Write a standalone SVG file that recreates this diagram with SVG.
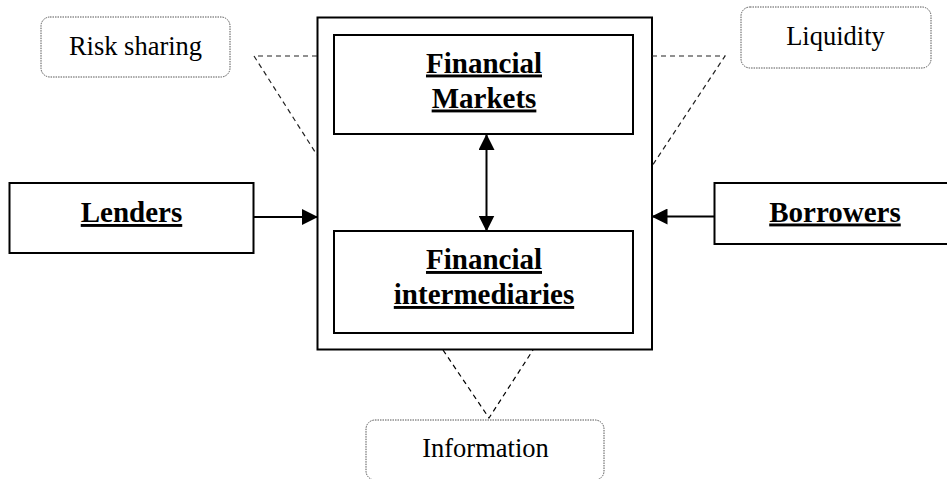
<svg xmlns="http://www.w3.org/2000/svg" width="947" height="479" viewBox="0 0 947 479">
  <defs>
    <marker id="arrow" markerUnits="userSpaceOnUse" markerWidth="16" markerHeight="16" refX="15" refY="8" orient="auto-start-reverse" viewBox="0 0 16 16">
      <path d="M0,0 L16,8 L0,16 z" fill="#000"/>
    </marker>
  </defs>
  <style>
    .box { fill: #fff; stroke: #000; stroke-width: 2; }
    .label { fill: #fff; stroke: #555; stroke-width: 1; stroke-dasharray: 1.5 1; }
    .dash { fill: none; stroke: #000; stroke-width: 1.2; stroke-dasharray: 5 4; }
    .conn { fill: none; stroke: #000; stroke-width: 2; }
    text { font-family: 'Liberation Serif', 'DejaVu Serif', serif; fill: #000; text-anchor: middle; }
    .bold { font-weight: bold; font-size: 29px; text-decoration: underline; }
    .reg { font-size: 26.5px; }
  </style>
  <rect width="947" height="479" fill="#fff"/>

  <g id="system">
    <rect class="box" x="317.5" y="17.5" width="334.5" height="332"/>
  </g>
  <g id="financial-markets">
    <rect class="box" x="334" y="35" width="299" height="99"/>
    <text class="bold" x="484" y="72.5" font-family="Liberation Serif">Financial</text>
    <text class="bold" x="484" y="107.5" font-family="Liberation Serif">Markets</text>
  </g>
  <g id="financial-intermediaries">
    <rect class="box" x="334" y="231" width="299" height="102"/>
    <text class="bold" x="484" y="269" font-family="Liberation Serif">Financial</text>
    <text class="bold" x="484" y="304" font-family="Liberation Serif">intermediaries</text>
  </g>
  <g id="lenders">
    <rect class="box" x="9.5" y="183" width="244" height="70"/>
    <text class="bold" x="131.5" y="222" font-family="Liberation Serif">Lenders</text>
  </g>
  <g id="borrowers">
    <rect class="box" x="714.5" y="183" width="250" height="61"/>
    <text class="bold" x="835" y="221.5" font-family="Liberation Serif">Borrowers</text>
  </g>
  <g id="risk-sharing">
    <rect class="label" x="41" y="17" width="189" height="60" rx="9"/>
    <text class="reg" x="135.5" y="55" font-family="Liberation Serif">Risk sharing</text>
  </g>
  <g id="liquidity">
    <rect class="label" x="741" y="7" width="190" height="61" rx="9"/>
    <text class="reg" x="835.5" y="45" font-family="Liberation Serif">Liquidity</text>
  </g>
  <g id="information">
    <rect class="label" x="366" y="420" width="238" height="60" rx="9"/>
    <text class="reg" x="485.5" y="457" font-family="Liberation Serif">Information</text>
  </g>

  <g id="connectors">
    <line class="conn" x1="253.5" y1="217" x2="317" y2="217" marker-end="url(#arrow)"/>
    <line class="conn" x1="714.5" y1="216.5" x2="652.5" y2="216.5" marker-end="url(#arrow)"/>
    <line class="conn" x1="486.5" y1="135" x2="486.5" y2="230.5" marker-start="url(#arrow)" marker-end="url(#arrow)"/>
    <polyline class="dash" points="317,56 254,56 317,155" style="stroke:#222"/>
    <polyline class="dash" points="652,56 725,56 652,166" style="stroke:#222"/>
    <polyline class="dash" points="443,350 489,418 533,350"/>
  </g>
</svg>
